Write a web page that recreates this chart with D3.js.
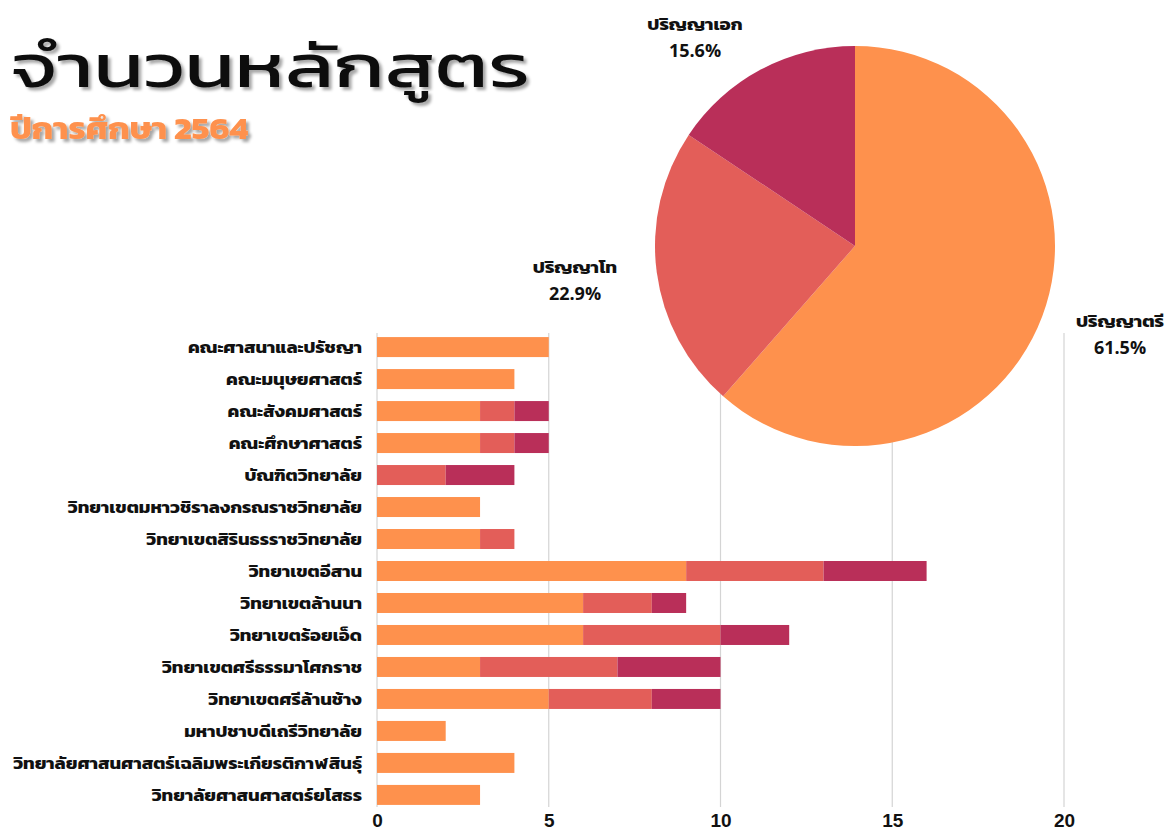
<!DOCTYPE html>
<html>
<head>
<meta charset="utf-8">
<title>จำนวนหลักสูตร</title>
<script src="https://d3js.org/d3.v7.min.js"></script>
<style>
  body { margin: 0; background: #fff; }
  svg { font-family: "Kanit", "Prompt", "Noto Sans Thai", "Noto Sans", "DejaVu Sans", sans-serif; }
</style>
</head>
<body>
<div id="chart"></div>
<script>
// ---- data ----
var faculties = [
  "คณะศาสนาและปรัชญา",
  "คณะมนุษยศาสตร์",
  "คณะสังคมศาสตร์",
  "คณะศึกษาศาสตร์",
  "บัณฑิตวิทยาลัย",
  "วิทยาเขตมหาวชิราลงกรณราชวิทยาลัย",
  "วิทยาเขตสิรินธรราชวิทยาลัย",
  "วิทยาเขตอีสาน",
  "วิทยาเขตล้านนา",
  "วิทยาเขตร้อยเอ็ด",
  "วิทยาเขตศรีธรรมาโศกราช",
  "วิทยาเขตศรีล้านช้าง",
  "มหาปชาบดีเถรีวิทยาลัย",
  "วิทยาลัยศาสนศาสตร์เฉลิมพระเกียรติกาฬสินธุ์",
  "วิทยาลัยศาสนศาสตร์ยโสธร"
];
var levels = ["ปริญญาตรี", "ปริญญาโท", "ปริญญาเอก"];
var bachelor = [5, 4, 3, 3, 0, 3, 3, 9, 6, 6, 3, 5, 2, 4, 3];
var master   = [0, 0, 1, 1, 2, 0, 1, 4, 2, 4, 4, 3, 0, 0, 0];
var doctor   = [0, 0, 1, 1, 2, 0, 0, 3, 1, 2, 3, 2, 0, 0, 0];
var xTicks = [0, 5, 10, 15, 20];
var colors = ["#fe914d", "#e35e59", "#b92f59"];

var width = 1170, height = 832;

var svg = d3.select("#chart").append("svg")
    .attr("width", width)
    .attr("height", height);

// shadow for the title
var defs = svg.append("defs");
var f = defs.append("filter").attr("id", "shadow")
    .attr("x", "-10%").attr("y", "-10%").attr("width", "130%").attr("height", "140%");
f.append("feDropShadow").attr("dx", 3).attr("dy", 3).attr("stdDeviation", 1.5)
    .attr("flood-color", "#000").attr("flood-opacity", 0.35);

// ---- stacked bar chart ----
var rows = faculties.map(function(name, i) {
  return { name: name, "ปริญญาตรี": bachelor[i], "ปริญญาโท": master[i], "ปริญญาเอก": doctor[i] };
});
var stack = d3.stack().keys(levels)(rows);

var x = d3.scaleLinear().domain([0, 20]).range([377, 1064]);
var y = d3.scaleBand().domain(faculties).range([331, 811]).paddingInner(0.375).paddingOuter(0.19);

// gridlines
svg.append("g")
    .selectAll("line")
    .data(xTicks)
  .enter().append("line")
    .attr("x1", function(d) { return x(d); })
    .attr("x2", function(d) { return x(d); })
    .attr("y1", 333)
    .attr("y2", 807)
    .attr("stroke", "#d4d4d4")
    .attr("stroke-width", 1.2);

svg.append("g")
    .selectAll("g")
    .data(stack)
  .enter().append("g")
    .attr("fill", function(d, i) { return colors[i]; })
  .selectAll("rect")
    .data(function(d) { return d; })
  .enter().append("rect")
    .attr("x", function(d) { return x(d[0]); })
    .attr("y", function(d) { return y(d.data.name); })
    .attr("width", function(d) { return x(d[1]) - x(d[0]); })
    .attr("height", y.bandwidth());

// category labels (stretched a bit, the source font is wider)
svg.append("g")
    .attr("transform", "translate(362,0) scale(1.15,1)")
    .selectAll("text")
    .data(faculties)
  .enter().append("text")
    .attr("x", 0)
    .attr("y", function(d) { return y(d) + y.bandwidth() / 2; })
    .attr("dy", "0.36em")
    .attr("text-anchor", "end")
    .attr("font-size", 16)
    .attr("font-weight", "bold")
    .attr("fill", "#111")
    .text(function(d) { return d; });

// x axis
var xAxis = svg.append("g")
    .attr("transform", "translate(0,810)")
    .call(d3.axisBottom(x).tickValues(xTicks).tickSize(0).tickPadding(4));
xAxis.select(".domain").remove();
xAxis.selectAll("text")
    .attr("font-family", null)
    .attr("font-size", 19)
    .attr("font-weight", "bold")
    .attr("fill", "#111");

// ---- pie chart ----
var totals = [d3.sum(bachelor), d3.sum(master), d3.sum(doctor)];
var grand = d3.sum(totals);
var pieData = d3.pie().sort(null)(totals);
var arc = d3.arc().innerRadius(0).outerRadius(200);

var pieG = svg.append("g").attr("transform", "translate(855,246)");
pieG.selectAll("path")
    .data(pieData)
  .enter().append("path")
    .attr("d", arc)
    .attr("fill", function(d, i) { return colors[i]; });

// pie labels (name + percent)
var labelPos = [[1120, 327], [575, 273], [695, 30]];
var pieLabels = svg.append("g")
    .selectAll("g")
    .data(pieData)
  .enter().append("g")
    .attr("transform", function(d, i) { return "translate(" + labelPos[i][0] + "," + labelPos[i][1] + ")"; });
pieLabels.append("text")
    .attr("text-anchor", "middle")
    .attr("transform", "scale(1.1,1)")
    .attr("font-size", 17)
    .attr("font-weight", "bold")
    .attr("fill", "#111")
    .text(function(d, i) { return levels[i]; });
pieLabels.append("text")
    .attr("text-anchor", "middle")
    .attr("y", 27)
    .attr("font-family", "'Open Sans', 'Noto Sans', sans-serif")
    .attr("font-size", 18)
    .attr("font-weight", 700)
    .attr("fill", "#111")
    .text(function(d) { return d3.format(".1%")(d.value / grand); });

// ---- title ----
svg.append("text")
    .attr("x", 10)
    .attr("y", 87)
    .attr("font-size", 60)
    .attr("textLength", 520)
    .attr("lengthAdjust", "spacingAndGlyphs")
    .attr("fill", "#111")
    .attr("filter", "url(#shadow)")
    .text("จำนวนหลักสูตร");

svg.append("text")
    .attr("x", 10)
    .attr("y", 139)
    .attr("font-size", 30)
    .attr("font-weight", "bold")
    .attr("textLength", 238)
    .attr("lengthAdjust", "spacingAndGlyphs")
    .attr("fill", "#fe914d")
    .attr("filter", "url(#shadow)")
    .text("ปีการศึกษา 2564");
</script>
</body>
</html>
